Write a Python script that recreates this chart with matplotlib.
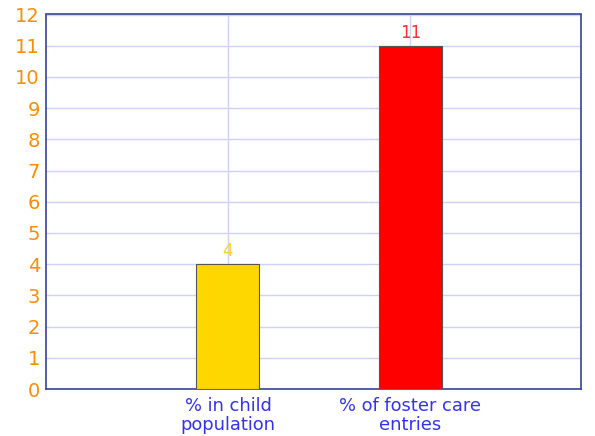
import matplotlib
matplotlib.use("Agg")
import matplotlib.pyplot as plt

categories = ["% in child\npopulation", "% of foster care\nentries"]
values = [4, 11]
bar_colors = ["#FFD700", "#FF0000"]
label_colors = ["#FFD21F", "#FF3030"]
positions = [1, 2]

fig = plt.figure(figsize=(5.95, 4.36), dpi=100)
ax = fig.add_axes([45.5 / 595, 1 - 389 / 436, 535.5 / 595, 374.5 / 436])

ax.bar(positions, values, width=0.345, color=bar_colors,
       edgecolor="#555555", linewidth=0.8, zorder=3)
for x, v, c in zip(positions, values, label_colors):
    ax.text(x, v + 0.12, str(v), ha="center", va="bottom", color=c, fontsize=12, zorder=4)

ax.set_xlim(0, 2.935)
ax.set_ylim(0, 12)
ax.set_yticks(range(0, 13))
ax.set_xticks(positions)
ax.set_xticklabels(categories, color="#3333EE", fontsize=12.9, linespacing=1.08)
ax.tick_params(axis="y", colors="#FF8C00", labelsize=14, length=0, pad=4)
ax.tick_params(axis="x", length=0, pad=6)
ax.grid(True, color="#D0D0F8", linewidth=1, zorder=0)
for s in ax.spines.values():
    s.set_color("#334499")
    s.set_linewidth(1.2)

fig.savefig("out.png", dpi=100)
